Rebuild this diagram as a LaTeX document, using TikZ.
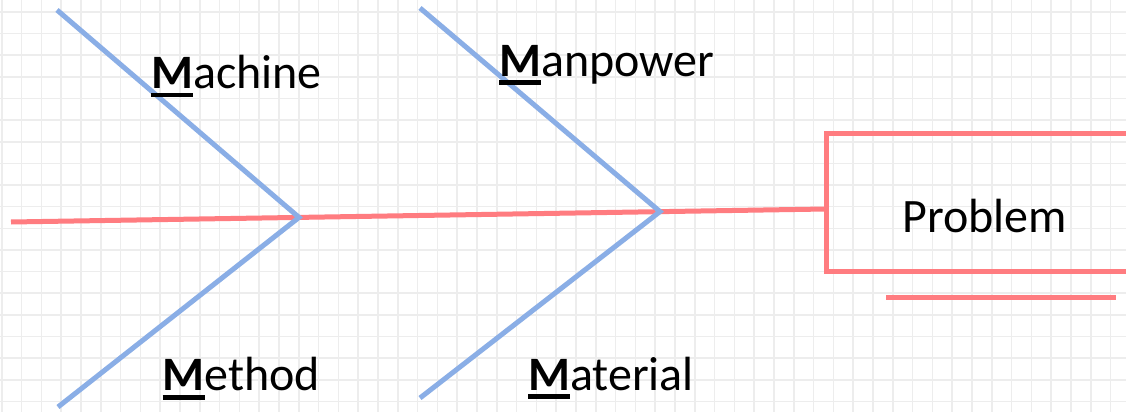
\documentclass[tikz,border=0pt]{standalone}
\usepackage{fontspec}
\setmainfont{Carlito}
\definecolor{bone}{HTML}{8AAEE6}
\definecolor{spinered}{HTML}{FF7C80}
\definecolor{gridgray}{HTML}{EDEDED}
\newcommand\ulM{\setbox0\hbox{\bfseries M}\rlap{\rule[-9pt]{\wd0}{4.6pt}}\box0}
\tikzset{
  gridline/.style={draw=gridgray,line width=1.6pt},
  bonestyle/.style={draw=bone,line width=5pt},
  spinestyle/.style={draw=spinered,line width=5pt},
  lbl/.style={anchor=base west,inner sep=0pt,font=\fontsize{48}{58}\selectfont},
}
\begin{document}
\begin{tikzpicture}[x=1pt,y=-1pt]
\useasboundingbox (0,0) rectangle (1126,412);
\clip (0,0) rectangle (1126,412);
\fill[white] (0,0) rectangle (1126,412);
% grid
\foreach \k in {0,...,56} {\draw[gridline] ({1.7+19.8*\k},0) -- ({1.7+19.8*\k},412);}
\foreach \k in {0,...,18} {\draw[gridline] (0,{11.8+21.65*\k}) -- (1126,{11.8+21.65*\k});}
% key points
\coordinate (tail) at (11,222);
\coordinate (head) at (826,209);
\coordinate (v1) at (299,217.4);
\coordinate (v2) at (660,211.6);
\coordinate (b1) at (57,10);
\coordinate (b2) at (58,407);
\coordinate (b3) at (420,8);
\coordinate (b4) at (420,398);
% spine
\draw[spinestyle] (tail) -- (head);
% problem box
\draw[spinestyle] (1140,133) -- (826,133) -- (826,271) -- (1140,271);
\coordinate (ul1) at (886,297);
\coordinate (ul2) at (1116,297);
\draw[spinestyle] (ul1) -- (ul2);
\node[lbl] (problem) at (902,232.7) {Problem};
% bones
\draw[bonestyle] (b1) -- (v1) -- (b2);
\draw[bonestyle] (b3) -- (v2) -- (b4);
% labels
\node[lbl] (machine) at (151,88.3) {\ulM achine};
\node[lbl] (manpower) at (499,76) {\ulM anpower};
\node[lbl] (method) at (162.5,390.7) {\ulM ethod};
\node[lbl] (material) at (528,390) {\ulM aterial};
\end{tikzpicture}
\end{document}
